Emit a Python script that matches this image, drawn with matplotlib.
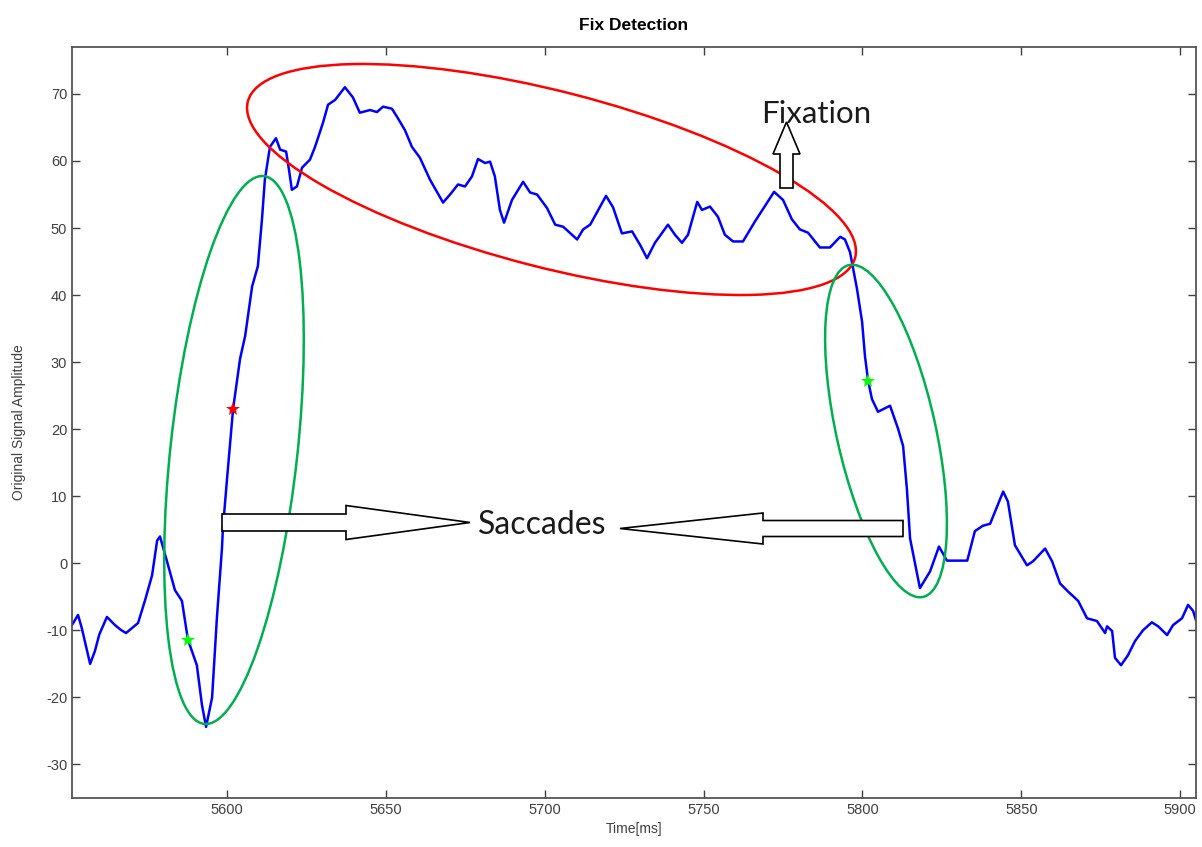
import matplotlib
matplotlib.use("Agg")
import matplotlib.pyplot as plt
from matplotlib.patches import Ellipse, FancyArrow

plt.rcParams['font.family'] = ['Liberation Sans', 'DejaVu Sans']
plt.rcParams['axes.unicode_minus'] = False

# signal
time_ms = [5551.2, 5553.1, 5554.3, 5556.9, 5558.4, 5559.8, 5562.2, 5564.7, 5566.5, 5568.2,
           5572.0, 5574.2, 5576.4, 5578.0, 5578.9, 5581.1, 5583.6, 5585.8, 5587.7, 5590.5,
           5592.1, 5593.4, 5595.3, 5596.8, 5598.4, 5598.7, 5600.0, 5601.9, 5604.1, 5605.7,
           5607.9, 5609.7, 5611.0, 5611.9, 5613.5, 5615.4, 5616.7, 5618.6, 5619.5, 5620.4,
           5622.0, 5623.6, 5626.1, 5627.7, 5630.2, 5631.8, 5634.0, 5637.1, 5639.6, 5641.8,
           5645.0, 5647.2, 5649.1, 5651.9, 5653.5, 5656.0, 5658.2, 5660.7, 5663.9, 5668.0,
           5670.2, 5672.7, 5674.9, 5677.1, 5679.0, 5681.2, 5682.8, 5684.3, 5685.9, 5687.2,
           5689.7, 5693.2, 5695.4, 5697.6, 5700.7, 5703.3, 5705.8, 5710.2, 5712.1, 5714.3,
           5719.3, 5721.5, 5724.3, 5727.5, 5730.0, 5732.2, 5734.7, 5738.8, 5741.0, 5743.2,
           5745.1, 5748.0, 5749.5, 5752.0, 5754.5, 5756.7, 5759.3, 5762.4, 5766.2, 5772.2,
           5775.0, 5777.8, 5780.3, 5782.9, 5786.6, 5789.8, 5793.0, 5794.5, 5796.1, 5796.7,
           5798.3, 5799.9, 5800.8, 5801.8, 5803.0, 5804.9, 5808.7, 5811.2, 5812.8, 5814.0,
           5815.0, 5818.1, 5821.3, 5824.1, 5826.6, 5833.0, 5835.4, 5837.9, 5840.2, 5844.3,
           5845.8, 5848.0, 5851.8, 5853.7, 5857.5, 5859.7, 5862.2, 5864.7, 5867.9, 5870.7,
           5873.8, 5876.4, 5877.0, 5878.6, 5879.5, 5881.4, 5883.6, 5885.8, 5888.3, 5891.1,
           5893.1, 5895.9, 5897.8, 5900.6, 5902.5, 5904.1, 5905.0]
amplitude = [-9.2, -7.7, -9.7, -15.0, -13.1, -10.6, -8.0, -9.2, -9.9, -10.4,
             -8.9, -5.5, -1.8, 3.4, 4.0, 0.3, -4.0, -5.6, -11.4, -15.2,
             -21.1, -24.4, -20.0, -8.2, 2.2, 5.2, 12.6, 23.0, 30.5, 33.9,
             41.3, 44.3, 51.3, 57.2, 62.1, 63.4, 61.7, 61.4, 58.7, 55.7,
             56.2, 59.0, 60.2, 62.1, 65.7, 68.4, 69.1, 71.0, 69.5, 67.2,
             67.6, 67.3, 68.1, 67.8, 66.6, 64.6, 62.1, 60.5, 57.2, 53.8,
             55.0, 56.5, 56.2, 57.7, 60.3, 59.7, 59.9, 57.7, 52.7, 50.8,
             54.2, 56.9, 55.3, 55.0, 53.0, 50.5, 50.2, 48.3, 49.8, 50.5,
             54.8, 53.1, 49.2, 49.5, 47.5, 45.5, 47.8, 50.5, 49.0, 47.8,
             49.0, 53.9, 52.7, 53.2, 51.7, 49.0, 48.0, 48.0, 51.0, 55.4,
             54.2, 51.3, 49.8, 49.3, 47.1, 47.1, 48.7, 48.3, 46.4, 44.9,
             40.9, 36.0, 30.9, 27.2, 24.5, 22.6, 23.5, 20.1, 17.5, 11.1,
             3.7, -3.7, -1.2, 2.5, 0.4, 0.4, 4.8, 5.6, 5.9, 10.7,
             9.2, 2.7, -0.3, 0.3, 2.2, 0.3, -3.0, -4.2, -5.6, -8.2,
             -8.6, -10.4, -9.4, -10.1, -14.1, -15.2, -13.7, -11.6, -10.0, -8.8,
             -9.4, -10.7, -9.2, -8.2, -6.2, -7.1, -8.5]

# detected points
red_t, red_y = [5601.9], [23.0]
green_t, green_y = [5587.7, 5801.8], [-11.4, 27.2]

x_ticks = [5600, 5650, 5700, 5750, 5800, 5850, 5900]
y_ticks = [-30, -20, -10, 0, 10, 20, 30, 40, 50, 60, 70]

fig = plt.figure(figsize=(12.02, 8.47), dpi=100)
ax = fig.add_axes([72 / 1202, 49 / 847, 1124 / 1202, 751 / 847])

ax.plot(time_ms, amplitude, color='#0000ff', lw=1.8)
ax.plot(red_t, red_y, '*', color='#ff0000', ms=10, mew=0)
ax.plot(green_t, green_y, '*', color='#00ff00', ms=10, mew=0)

ax.set_xlim(5551.2, 5905)
ax.set_ylim(-35, 77)
ax.set_xticks(x_ticks)
ax.set_yticks(y_ticks)
ax.tick_params(direction='in', top=True, right=True, length=6, width=1,
               labelsize=10.5, labelcolor='#404040', color='#404040')
for s in ax.spines.values():
    s.set_color('#555555')
    s.set_linewidth(1.3)

ax.set_title('Fix Detection', fontsize=12.5, fontweight='bold', pad=12)
ax.set_xlabel('Time[ms]', fontsize=10, color='#404040', labelpad=4)
ax.set_ylabel('Original Signal Amplitude', fontsize=10, color='#404040', labelpad=14)

# overlay in pixel coordinates for the hand-drawn annotations
ov = fig.add_axes([0, 0, 1, 1], zorder=5)
ov.set_xlim(0, 1202)
ov.set_ylim(847, 0)
ov.axis('off')
ov.patch.set_alpha(0)

ov.add_patch(Ellipse((551.5, 179.5), 627, 176, angle=14.4, fill=False,
                     edgecolor='#ff0000', lw=1.8))
ov.add_patch(Ellipse((234, 450), 551, 127, angle=-83.8, fill=False,
                     edgecolor='#00b050', lw=1.8))
ov.add_patch(Ellipse((886, 431), 340, 99, angle=-102.6, fill=False,
                     edgecolor='#00b050', lw=1.8))

arrow_kw = dict(length_includes_head=True, facecolor='white', edgecolor='black', lw=1.2)
ov.add_patch(FancyArrow(222, 522.5, 248, 0, width=17, head_width=34, head_length=124, **arrow_kw))
ov.add_patch(FancyArrow(903, 528.5, -283, 0, width=16, head_width=31, head_length=143, **arrow_kw))
ov.add_patch(FancyArrow(786.5, 188, 0, -66, width=13, head_width=27, head_length=32, **arrow_kw))

ov.text(816, 114, 'Fixation', fontsize=22.5, family='Lato', ha='center', va='center', color='#1a1a1a')
ov.text(542, 525, 'Saccades', fontsize=23, family='Lato', ha='center', va='center', color='#1a1a1a')

fig.savefig('out.png', dpi=100)
